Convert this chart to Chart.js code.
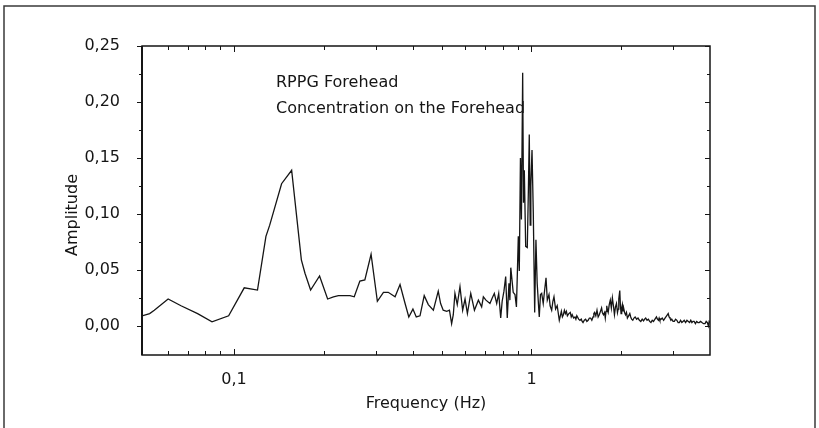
<!DOCTYPE html>
<html>
<head>
<meta charset="utf-8">
<script src="https://cdn.jsdelivr.net/npm/chart.js@4"></script>
<style>
  html, body { margin: 0; padding: 0; background: #fff; }
  canvas { display: block; }
</style>
</head>
<body>
<canvas id="spectrum" width="819" height="428"></canvas>
<script>
// frequency (Hz) and amplitude
const freq = [
  0.0491, 0.0521, 0.054, 0.0601, 0.0664, 0.0755, 0.0844, 0.096, 0.1083, 0.12,
  0.1281, 0.1319, 0.1446, 0.1563, 0.1685, 0.1733, 0.181, 0.194, 0.2065, 0.216,
  0.2245, 0.236, 0.2455, 0.2537, 0.265, 0.2754, 0.289, 0.3034, 0.318, 0.33,
  0.348, 0.3616, 0.376, 0.387, 0.3995, 0.41, 0.422, 0.436, 0.45, 0.468,
  0.486, 0.495, 0.505, 0.519, 0.53, 0.539, 0.546, 0.553, 0.563, 0.575,
  0.587, 0.598, 0.609, 0.625, 0.643, 0.663, 0.68, 0.689, 0.703, 0.725,
  0.738, 0.75, 0.764, 0.776, 0.788, 0.797, 0.808, 0.819, 0.829, 0.84,
  0.846, 0.852, 0.868, 0.88, 0.89, 0.896, 0.903, 0.91, 0.918, 0.925,
  0.934, 0.94, 0.946, 0.956, 0.968, 0.976, 0.983, 0.99, 0.995, 1.004,
  1.014, 1.025, 1.035, 1.045, 1.062, 1.072, 1.082, 1.095, 1.105, 1.119,
  1.13, 1.145, 1.155, 1.169, 1.18, 1.19, 1.205, 1.22,
  1.24, 1.25, 1.26, 1.27, 1.28, 1.29, 1.3, 1.31, 1.32, 1.335,
  1.35, 1.36, 1.37, 1.385, 1.4, 1.41, 1.42, 1.44, 1.455, 1.47,
  1.48, 1.49, 1.505, 1.52, 1.535, 1.55, 1.565, 1.58, 1.595, 1.61,
  1.62, 1.63, 1.645, 1.66, 1.675, 1.69, 1.705, 1.72, 1.73, 1.745,
  1.76, 1.77, 1.78, 1.79, 1.8, 1.81, 1.825, 1.84, 1.855, 1.87,
  1.885, 1.9, 1.915, 1.93, 1.945, 1.955, 1.965, 1.98, 1.99, 2.0,
  2.01, 2.02, 2.03, 2.04, 2.055, 2.07, 2.085, 2.1, 2.12, 2.14,
  2.155, 2.17, 2.19, 2.21, 2.23, 2.255, 2.28, 2.305, 2.33, 2.355,
  2.38, 2.4, 2.42, 2.445, 2.47, 2.495, 2.52, 2.545, 2.57, 2.6,
  2.63, 2.65, 2.67, 2.685, 2.7, 2.725, 2.75, 2.78, 2.81, 2.845,
  2.88, 2.9, 2.92, 2.94, 2.96, 2.99, 3.02, 3.05, 3.08, 3.11,
  3.14, 3.17, 3.2, 3.23, 3.26, 3.295, 3.33, 3.365, 3.4, 3.43,
  3.46, 3.49, 3.52, 3.555, 3.59, 3.625, 3.66, 3.7, 3.74, 3.785,
  3.83, 3.865, 3.9, 3.93, 3.955, 3.98
];
const amplitude = [
  0.009, 0.011, 0.014, 0.024, 0.018, 0.011, 0.0037, 0.009, 0.034, 0.032,
  0.08, 0.09, 0.127, 0.139, 0.059, 0.047, 0.032, 0.0446, 0.024, 0.026,
  0.027, 0.027, 0.027, 0.026, 0.04, 0.041, 0.064, 0.022, 0.03, 0.03,
  0.026, 0.037, 0.02, 0.008, 0.015, 0.008, 0.009, 0.027, 0.019, 0.014,
  0.031, 0.02, 0.014, 0.013, 0.014, 0.002, 0.01, 0.029, 0.019, 0.035,
  0.014, 0.024, 0.011, 0.029, 0.014, 0.023, 0.017, 0.026, 0.023, 0.02,
  0.025, 0.029, 0.02, 0.029, 0.007, 0.022, 0.031, 0.044, 0.007, 0.038,
  0.023, 0.052, 0.03, 0.028, 0.017, 0.045, 0.08, 0.049, 0.15, 0.095,
  0.226, 0.11, 0.139, 0.071, 0.07, 0.12, 0.171, 0.09, 0.125, 0.157,
  0.101, 0.012, 0.077, 0.038, 0.008, 0.028, 0.029, 0.02, 0.03, 0.043,
  0.023, 0.028, 0.018, 0.014, 0.022, 0.026, 0.015, 0.018,
  0.005, 0.009, 0.013, 0.008, 0.01, 0.014, 0.011, 0.013, 0.009, 0.011,
  0.012, 0.008, 0.01, 0.007, 0.008, 0.006, 0.009, 0.006, 0.005, 0.006,
  0.004, 0.003, 0.005, 0.006, 0.004, 0.005, 0.007, 0.007, 0.005, 0.008,
  0.011, 0.012, 0.009, 0.014, 0.008, 0.01, 0.013, 0.016, 0.012, 0.01,
  0.012, 0.007, 0.013, 0.018, 0.014, 0.012, 0.019, 0.023, 0.016, 0.025,
  0.018, 0.01, 0.017, 0.02, 0.012, 0.015, 0.024, 0.0315, 0.018, 0.011,
  0.016, 0.019, 0.013, 0.016, 0.012, 0.01, 0.012, 0.007, 0.009, 0.011,
  0.008, 0.006, 0.005, 0.007, 0.008, 0.006, 0.007, 0.005, 0.004, 0.006,
  0.0045, 0.006, 0.007, 0.005, 0.006, 0.004, 0.003, 0.005, 0.004, 0.006,
  0.008, 0.006, 0.005, 0.007, 0.005, 0.006, 0.007, 0.005, 0.007, 0.009,
  0.011, 0.008, 0.007, 0.005, 0.006, 0.004, 0.004, 0.006, 0.005, 0.003,
  0.003, 0.005, 0.003, 0.004, 0.005, 0.003, 0.005, 0.004, 0.003, 0.005,
  0.003, 0.004, 0.004, 0.002, 0.004, 0.003, 0.003, 0.004, 0.003, 0.002,
  0.002, 0.004, 0.003, 0.0, 0.004, 0.003
];

const yTicks = [0, 0.05, 0.1, 0.15, 0.2, 0.25];
const xTicks = [0.1, 1];
const xMinorTicks = [0.06, 0.07, 0.08, 0.09, 0.2, 0.3, 0.4, 0.5, 0.6, 0.7, 0.8, 0.9, 2, 3];
const notes = ["RPPG Forehead", "Concentration on the Forehead"];

const FONT = "'DejaVu Sans', sans-serif";
const INK = "#151515";

function comma(v) {
  return String(v).replace(".", ",");
}

// frame, inward/outward ticks, y title and the two note lines
const decorations = {
  id: "decorations",
  afterDraw(chart) {
    const { ctx, chartArea: a, scales } = chart;
    const x = scales.x, y = scales.y;
    ctx.save();

    // outer page frame
    ctx.strokeStyle = "#3a3a3a";
    ctx.lineWidth = 1.5;
    ctx.beginPath();
    ctx.moveTo(4, 428); ctx.lineTo(4, 6); ctx.lineTo(815, 6); ctx.lineTo(815, 428);
    ctx.stroke();

    // plot box
    ctx.strokeStyle = INK;
    ctx.lineWidth = 1.5;
    ctx.strokeRect(a.left, a.top, a.right - a.left, a.bottom - a.top);
    ctx.lineWidth = 2;
    ctx.beginPath(); ctx.moveTo(a.left, a.top); ctx.lineTo(a.left, a.bottom); ctx.stroke();

    ctx.lineWidth = 1;
    ctx.beginPath();
    // y ticks: outward on the left, inward on the right
    for (let v = 0; v <= 0.25 + 1e-9; v += 0.025) {
      const py = Math.round(y.getPixelForValue(v)) + 0.5;
      const major = Math.abs(v / 0.05 - Math.round(v / 0.05)) < 1e-6;
      const len = major ? 5 : 3;
      ctx.moveTo(a.left - len, py); ctx.lineTo(a.left, py);
      ctx.moveTo(a.right - len, py); ctx.lineTo(a.right, py);
    }
    // x ticks: inward on top and bottom
    xTicks.concat(xMinorTicks).forEach(v => {
      const px = Math.round(x.getPixelForValue(v)) + 0.5;
      const len = xTicks.includes(v) ? 6 : 4;
      ctx.moveTo(px, a.top); ctx.lineTo(px, a.top + len);
      ctx.moveTo(px, a.bottom); ctx.lineTo(px, a.bottom - len);
    });
    ctx.stroke();

    ctx.fillStyle = INK;
    ctx.font = "16px " + FONT;
    ctx.textBaseline = "alphabetic";
    ctx.textAlign = "left";
    ctx.fillText(notes[0], 276, 87);
    ctx.fillText(notes[1], 276, 113);

    ctx.translate(73, 215);
    ctx.rotate(-Math.PI / 2);
    ctx.textAlign = "center";
    ctx.textBaseline = "middle";
    ctx.fillText("Amplitude", 0, 0);
    ctx.restore();
  }
};

new Chart(document.getElementById("spectrum"), {
  type: "line",
  data: {
    datasets: [{
      data: freq.map((f, i) => ({ x: f, y: amplitude[i] })),
      borderColor: INK,
      borderWidth: 1.3,
      pointRadius: 0,
      tension: 0,
      fill: false
    }]
  },
  options: {
    responsive: false,
    animation: false,
    layout: { padding: { top: 46, right: 109, left: 0, bottom: 0 } },
    plugins: { legend: { display: false }, tooltip: { enabled: false } },
    scales: {
      x: {
        type: "logarithmic",
        min: 0.0491,
        max: 3.98,
        grid: { display: false },
        border: { display: false },
        afterBuildTicks: s => { s.ticks = xTicks.map(v => ({ value: v })); },
        afterFit: s => { s.height = 428 - 355; },
        ticks: {
          color: INK,
          font: { family: FONT, size: 16 },
          padding: 7,
          autoSkip: false,
          maxRotation: 0,
          callback: v => comma(v)
        },
        title: {
          display: true,
          text: "Frequency (Hz)",
          color: INK,
          font: { family: FONT, size: 16 },
          padding: { top: 0, bottom: 15 }
        }
      },
      y: {
        min: -0.026,
        max: 0.25,
        grid: { display: false },
        border: { display: false },
        afterBuildTicks: s => { s.ticks = yTicks.map(v => ({ value: v })); },
        afterFit: s => { s.width = 142; },
        ticks: {
          color: INK,
          font: { family: FONT, size: 16 },
          padding: 14,
          callback: v => Number(v).toFixed(2).replace(".", ",")
        }
      }
    }
  },
  plugins: [decorations]
});
</script>
</body>
</html>
